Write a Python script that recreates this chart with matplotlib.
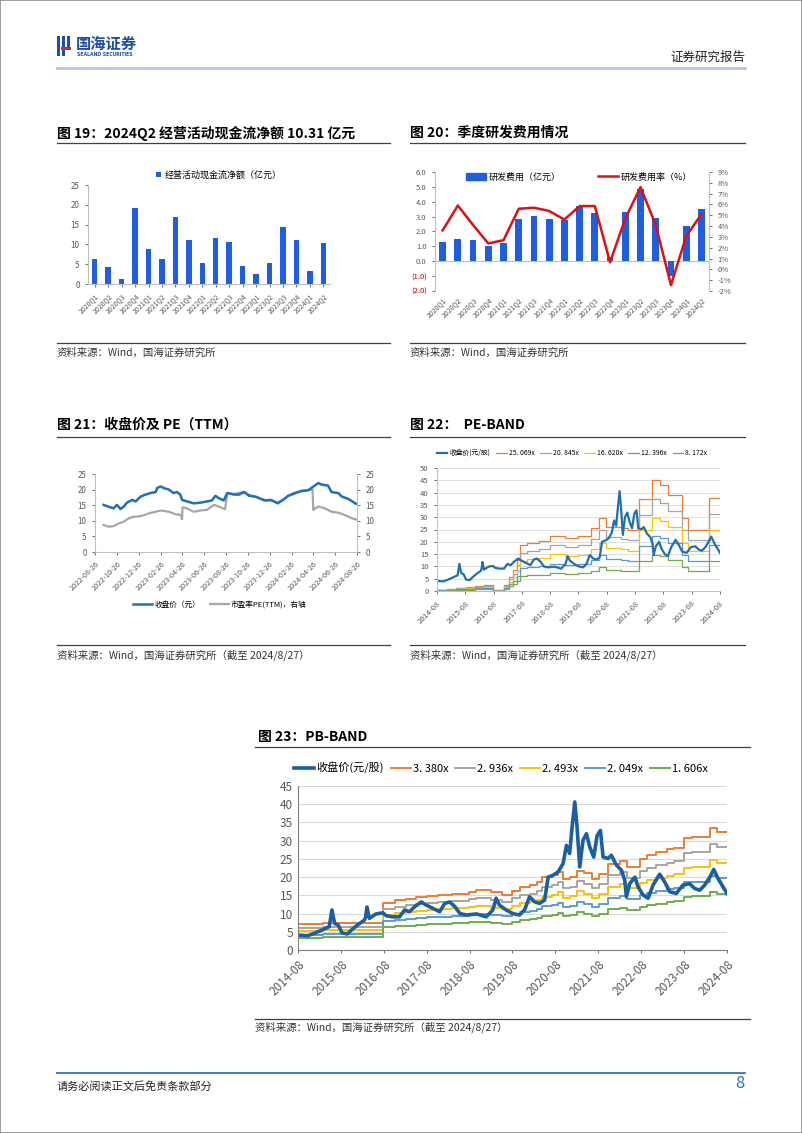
import numpy as np
import pandas as pd
import matplotlib
matplotlib.use("Agg")
import matplotlib.pyplot as plt
from matplotlib.lines import Line2D
from matplotlib.patches import Rectangle, Patch

plt.rcParams['font.family'] = ['Noto Sans CJK SC', 'DejaVu Sans']
plt.rcParams['axes.unicode_minus'] = False

W, H = 802, 1133

# ====== 数据 ======
quarters = ['2020Q1', '2020Q2', '2020Q3', '2020Q4', '2021Q1', '2021Q2', '2021Q3', '2021Q4',
            '2022Q1', '2022Q2', '2022Q3', '2022Q4', '2023Q1', '2023Q2', '2023Q3', '2023Q4',
            '2024Q1', '2024Q2']
cfo_net = [6.4, 4.3, 1.2, 19.1, 8.8, 6.3, 16.8, 11.2, 5.4, 11.5, 10.6, 4.6,
           2.6, 5.4, 14.5, 11.2, 3.4, 10.31]
rd_cost = [1.30, 1.52, 1.43, 1.00, 1.20, 2.87, 3.07, 2.85, 2.80, 3.70, 3.25, 0.30,
           3.30, 4.87, 2.94, -0.96, 2.35, 3.50]
rd_ratio = [3.6, 5.9, 4.1, 2.4, 2.7, 5.6, 5.7, 5.4, 4.6, 5.85, 5.85, 0.65,
            4.7, 7.6, 4.1, -1.45, 3.05, 5.1]

# 图21 收盘价 / PE(TTM)
c21_dates = ['2022-09-19', '2022-10-03', '2022-10-17', '2022-10-26', '2022-11-05', '2022-11-14',
             '2022-11-23', '2022-12-08', '2022-12-17', '2023-01-01', '2023-01-14', '2023-01-28',
             '2023-02-11', '2023-02-16', '2023-02-26', '2023-03-06', '2023-03-20', '2023-04-02',
             '2023-04-12', '2023-04-21', '2023-04-26', '2023-05-10', '2023-05-28', '2023-06-16',
             '2023-07-04', '2023-07-18', '2023-07-28', '2023-08-06', '2023-08-20', '2023-08-30',
             '2023-09-18', '2023-10-02', '2023-10-16', '2023-10-30', '2023-11-18', '2023-12-12',
             '2023-12-30', '2024-01-18', '2024-02-02', '2024-02-16', '2024-03-05', '2024-03-24',
             '2024-04-12', '2024-05-10', '2024-05-19', '2024-06-06', '2024-06-16', '2024-07-05',
             '2024-07-14', '2024-08-02', '2024-08-21', '2024-08-27']
c21_close = [15.1, 14.5, 14.0, 15.1, 13.8, 14.5, 15.8, 16.7, 16.2, 17.8, 18.4, 18.9,
             19.2, 20.6, 21.0, 20.5, 20.0, 18.9, 19.2, 18.4, 16.7, 16.2, 15.6, 15.8,
             16.2, 16.5, 18.0, 17.3, 16.5, 18.9, 18.4, 18.4, 19.2, 18.0, 17.7, 16.5,
             16.7, 15.6, 16.7, 18.0, 18.9, 19.5, 19.8, 22.1, 21.6, 21.3, 19.2, 18.9,
             17.8, 17.0, 15.6, 15.4]
p21_dates = ['2022-09-19', '2022-10-03', '2022-10-17', '2022-11-01', '2022-11-14', '2022-11-28',
             '2022-12-12', '2023-01-01', '2023-01-24', '2023-02-11', '2023-02-26', '2023-03-20',
             '2023-04-08', '2023-04-22', '2023-04-26', '2023-04-27', '2023-05-10', '2023-05-28',
             '2023-06-16', '2023-07-04', '2023-07-24', '2023-08-06', '2023-08-24', '2023-08-30',
             '2023-09-18', '2023-10-16', '2023-10-30', '2023-11-18', '2023-12-12', '2023-12-30',
             '2024-01-18', '2024-02-02', '2024-02-16', '2024-03-05', '2024-03-24', '2024-04-17',
             '2024-04-24', '2024-04-26', '2024-05-10', '2024-05-28', '2024-06-16', '2024-07-05',
             '2024-07-24', '2024-08-12', '2024-08-27']
p21_pe = [8.65, 8.1, 8.3, 9.2, 9.7, 10.8, 11.3, 11.5, 12.4, 12.9, 13.3, 12.9,
          12.1, 11.9, 10.5, 14.3, 14.0, 12.9, 13.3, 13.5, 15.1, 14.6, 13.7, 18.9,
          18.6, 19.3, 18.3, 17.7, 16.7, 16.5, 15.8, 16.9, 18.0, 18.6, 19.7, 19.9,
          20.1, 13.5, 14.6, 14.0, 12.9, 12.6, 11.8, 10.8, 10.3]
x21_ticks = ['2022-08-26', '2022-10-26', '2022-12-26', '2023-02-26', '2023-04-26', '2023-06-26',
             '2023-08-26', '2023-10-26', '2023-12-26', '2024-02-26', '2024-04-26', '2024-06-26',
             '2024-08-26']

# 图22/23 收盘价(元/股)
px_dates = ['2014-08-27', '2014-11-15', '2015-01-15', '2015-03-20', '2015-05-20', '2015-06-12',
            '2015-07-05', '2015-08-05', '2015-09-05', '2015-10-20', '2015-12-10', '2016-01-25',
            '2016-03-15', '2016-03-25', '2016-04-05', '2016-04-25', '2016-06-22', '2016-08-19',
            '2016-09-17', '2016-11-10', '2017-01-08', '2017-02-20', '2017-04-03', '2017-05-17',
            '2017-07-12', '2017-08-24', '2017-10-20', '2017-12-15', '2018-01-28', '2018-03-11',
            '2018-04-24', '2018-06-06', '2018-08-01', '2018-10-24', '2019-01-16', '2019-03-13',
            '2019-04-10', '2019-05-09', '2019-07-04', '2019-08-30', '2019-10-26', '2019-12-08',
            '2020-01-20', '2020-03-04', '2020-04-15', '2020-05-27', '2020-06-26', '2020-08-06',
            '2020-09-18', '2020-10-31', '2020-11-29', '2020-12-26', '2021-01-19', '2021-02-08',
            '2021-02-27', '2021-03-22', '2021-04-19', '2021-05-18', '2021-06-15', '2021-07-19',
            '2021-08-17', '2021-09-14', '2021-10-07', '2021-11-18', '2021-12-16', '2022-01-28',
            '2022-03-12', '2022-04-09', '2022-04-23', '2022-05-22', '2022-07-04', '2022-08-01',
            '2022-09-12', '2022-10-25', '2022-12-06', '2023-02-01', '2023-03-15', '2023-04-27',
            '2023-06-22', '2023-08-17', '2023-10-13', '2023-11-25', '2024-01-07', '2024-02-19',
            '2024-04-03', '2024-05-06', '2024-06-12', '2024-07-25', '2024-08-27']
px_close = [4.1, 3.9, 4.6, 5.5, 6.4, 11.0, 7.3, 6.8, 4.7, 4.4, 5.9, 7.1,
            8.2, 9.1, 11.8, 8.7, 9.9, 10.2, 9.4, 9.1, 9.1, 11.0, 10.5, 11.9,
            13.2, 12.3, 11.4, 10.5, 12.8, 13.2, 11.9, 10.0, 9.6, 9.9, 9.1, 11.0,
            14.2, 12.3, 11.0, 10.0, 9.6, 11.0, 14.6, 13.2, 12.8, 13.7, 20.0, 20.5,
            21.4, 23.7, 28.7, 26.5, 34.7, 40.6, 33.8, 22.8, 30.1, 31.9, 28.3, 25.5,
            31.4, 32.8, 25.5, 25.1, 26.0, 23.3, 21.9, 19.2, 14.6, 18.2, 20.0, 17.3,
            15.1, 14.2, 17.8, 20.8, 18.7, 16.0, 15.5, 17.8, 18.2, 16.9, 16.4, 17.8,
            20.0, 22.1, 19.6, 17.3, 15.5]

# PE-BAND 顶部(25.069x)阶梯
pe_band_dates = ['2014-08-27', '2015-01-01', '2015-05-01', '2015-09-01', '2016-01-01', '2016-05-01',
                 '2016-08-25', '2017-01-10', '2017-03-10', '2017-05-01', '2017-06-25', '2017-08-05',
                 '2017-11-01', '2018-04-01', '2018-08-20', '2019-03-01', '2019-08-20', '2020-02-01',
                 '2020-05-20', '2020-08-20', '2021-03-01', '2021-06-01', '2021-10-20', '2022-03-30',
                 '2022-07-15', '2022-11-01', '2023-04-20', '2023-07-15', '2024-04-01', '2024-08-27']
pe_band_top = [0.5, 0.9, 1.3, 1.7, 2.1, 2.6, 0.3, 2.5, 5.7, 8.4, 12.5, 18.7,
               19.6, 20.4, 22.5, 21.4, 22.3, 25.5, 29.6, 26.2, 25.5, 24.8, 37.3, 45.0,
               43.2, 39.1, 29.6, 24.8, 37.7, 37.7]
pe_multiples = [25.069, 20.845, 16.620, 12.396, 8.172]
pe_names = ['25. 069x', '20. 845x', '16. 620x', '12. 396x', '8. 172x']

# PB-BAND 顶部(3.380x)阶梯
pb_band_dates = ['2014-08-27', '2015-04-01', '2016-08-22', '2016-12-01', '2017-03-01', '2017-06-01',
                 '2017-09-01', '2017-12-01', '2018-04-01', '2018-08-20', '2018-10-20', '2019-03-01',
                 '2019-06-01', '2019-08-20', '2019-11-01', '2020-01-20', '2020-03-20', '2020-05-01',
                 '2020-08-01', '2020-09-20', '2020-11-01', '2021-01-01', '2021-03-01', '2021-05-01',
                 '2021-07-01', '2021-09-01', '2021-11-20', '2022-03-01', '2022-05-01', '2022-08-20',
                 '2022-10-20', '2023-01-01', '2023-04-01', '2023-06-01', '2023-08-25', '2023-11-01',
                 '2024-04-01', '2024-06-01', '2024-08-27']
pb_band_top = [7.0, 7.3, 13.0, 13.7, 14.1, 14.6, 14.9, 15.1, 15.5, 16.0, 16.4, 15.8,
               15.2, 16.3, 17.3, 17.8, 18.7, 19.9, 20.5, 21.4, 19.5, 20.0, 21.8, 21.0,
               19.5, 20.9, 23.6, 24.5, 22.9, 25.0, 26.0, 26.8, 27.6, 28.1, 30.6, 31.0,
               33.5, 32.4, 32.4]
pb_multiples = [3.380, 2.936, 2.493, 2.049, 1.606]
pb_names = ['3. 380x', '2. 936x', '2. 493x', '2. 049x', '1. 606x']

band_colors = ['#ED7D31', '#A5A5A5', '#FFC000', '#5B9BD5', '#70AD47']
year_ticks = ['2014-08-27', '2015-08-27', '2016-08-27', '2017-08-27', '2018-08-27', '2019-08-27',
              '2020-08-27', '2021-08-27', '2022-08-27', '2023-08-27', '2024-08-27']

BAR_BLUE = '#1F5FDF'
TICK_C = '#595959'
SPINE_C = '#BFBFBF'

fig = plt.figure(figsize=(W / 100, H / 100), dpi=100)


def add_ax(x0, y0, x1, y1):
    return fig.add_axes([x0 / W, 1 - y1 / H, (x1 - x0) / W, (y1 - y0) / H])


def txt(x, y, s, **kw):
    kw.setdefault('va', 'center')
    return fig.text(x / W, 1 - y / H, s, **kw)


def hline(x0, x1, y, color, lw):
    fig.add_artist(Line2D([x0 / W, x1 / W], [1 - y / H] * 2, color=color, lw=lw))


def style(ax, size, xsize=None):
    for s in ['top', 'right']:
        ax.spines[s].set_visible(False)
    for s in ['left', 'bottom']:
        ax.spines[s].set_color(SPINE_C)
        ax.spines[s].set_linewidth(0.8)
    ax.tick_params(labelsize=size, colors=TICK_C, length=2.5, width=0.6)
    if xsize:
        ax.tick_params(axis='x', labelsize=xsize)


# 边框
fig.add_artist(Rectangle((0, 0), 1, 1, transform=fig.transFigure, fill=False, ec='#8c8c8c', lw=1.2))

# ====== 页眉 ======
for (x0, y0, w, h, c) in [(57, 36, 3, 20, '#1F4EA8'), (62, 36, 3, 20, '#1F4EA8'),
                          (67, 36, 3, 14, '#1F4EA8'), (61, 47, 10, 3, '#D9262C')]:
    fig.add_artist(Rectangle((x0 / W, 1 - (y0 + h) / H), w / W, h / H,
                             transform=fig.transFigure, color=c, lw=0))
txt(76, 44, '国海证券', fontsize=11, color='#1F4EA8', fontweight='bold')
txt(77, 54, 'SEALAND SECURITIES', fontsize=3.3, color='#1F4EA8', fontweight='bold', family='DejaVu Sans')
txt(745, 57, '证券研究报告', fontsize=9, color='#222222', ha='right')
hline(57, 745, 68, '#B4C7E7', 2)

# ====== 图19 ======
txt(57, 133, '图 19：2024Q2 经营活动现金流净额 10.31 亿元', fontsize=10, fontweight='bold')
hline(57, 390, 143, '#404040', 0.9)
ax = add_ax(88, 185, 330, 284)
xq = np.arange(len(quarters))
ax.bar(xq, cfo_net, width=0.4, color=BAR_BLUE, label='经营活动现金流净额（亿元）')
ax.set_xlim(-0.5, len(quarters) - 0.5)
ax.set_ylim(0, 25)
ax.set_yticks(range(0, 26, 5))
ax.set_xticks(xq)
ax.set_xticklabels(quarters, rotation=45, ha='right', rotation_mode='anchor')
style(ax, 5.8, 5.0)
ax.legend(loc='center', bbox_to_anchor=(219 / W, 1 - 175 / H), bbox_transform=fig.transFigure,
          fontsize=6.5, frameon=False, handlelength=0.6, handleheight=0.6, handletextpad=0.4)
hline(57, 390, 343, '#404040', 0.9)
txt(57, 353, '资料来源：Wind，国海证券研究所', fontsize=7.5, color='#333333')

# ====== 图20 ======
txt(410, 133, '图 20：季度研发费用情况', fontsize=10, fontweight='bold')
hline(410, 745, 143, '#404040', 0.9)
ax = add_ax(435, 172, 709, 291)
ax.bar(xq, rd_cost, width=0.44, color=BAR_BLUE, label='研发费用（亿元）', zorder=2)
ax.axhline(0, color=SPINE_C, lw=0.8, zorder=1)
ax.set_xlim(-0.5, len(quarters) - 0.5)
ax.set_ylim(-2, 6)
ax.set_yticks(range(-2, 7))
ax.set_yticklabels([('(%.1f)' % -v) if v < 0 else '%.1f' % v for v in range(-2, 7)])
ax.set_xticks(xq)
ax.set_xticklabels(quarters, rotation=45, ha='right', rotation_mode='anchor')
style(ax, 5.5, 5.0)
ax.spines['bottom'].set_visible(False)
ax.tick_params(axis='x', length=0)
for lab in ax.get_yticklabels():
    if '(' in lab.get_text():
        lab.set_color('#C00000')
ax2 = ax.twinx()
ax2.plot(xq, rd_ratio, color='#E01010', lw=1.8, label='研发费用率（%）')
ax2.set_ylim(-2, 9)
ax2.set_yticks(range(-2, 10))
ax2.set_yticklabels(['%d%%' % v for v in range(-2, 10)])
for s in ['top', 'left', 'bottom']:
    ax2.spines[s].set_visible(False)
ax2.spines['right'].set_color(SPINE_C)
ax2.spines['right'].set_linewidth(0.8)
ax2.tick_params(labelsize=5.5, colors=TICK_C, length=2.5, width=0.6)
fig.legend(handles=[Patch(color=BAR_BLUE, label='研发费用（亿元）')], loc='center left',
           bbox_to_anchor=(458 / W, 1 - 177 / H), fontsize=6.5, frameon=False,
           handlelength=2.2, handleheight=0.8, handletextpad=0.3)
fig.legend(handles=[Line2D([], [], color='#E01010', lw=1.8, label='研发费用率（%）')], loc='center left',
           bbox_to_anchor=(590 / W, 1 - 177 / H), fontsize=6.5, frameon=False,
           handlelength=2.2, handletextpad=0.3)
hline(410, 745, 343, '#404040', 0.9)
txt(410, 353, '资料来源：Wind，国海证券研究所', fontsize=7.5, color='#333333')

# ====== 图21 ======
txt(57, 425, '图 21：收盘价及 PE（TTM）', fontsize=10, fontweight='bold')
hline(57, 390, 437, '#404040', 0.9)
ax = add_ax(95, 474, 357, 552)
d_close = pd.to_datetime(c21_dates)
d_pe = pd.to_datetime(p21_dates)
ax.plot(d_close, c21_close, color='#1F6FBF', lw=1.8)
ax.set_ylim(0, 25)
ax.set_yticks(range(0, 26, 5))
t21 = pd.to_datetime(x21_ticks)
ax.set_xlim(t21[0], t21[-1])
ax.set_xticks(t21)
ax.set_xticklabels(x21_ticks, rotation=45, ha='right', rotation_mode='anchor')
style(ax, 5.8, 5.3)
ax2 = ax.twinx()
ax2.plot(d_pe, p21_pe, color='#A6A6A6', lw=1.6)
ax2.set_ylim(0, 25)
ax2.set_yticks(range(0, 26, 5))
for s in ['top', 'left', 'bottom']:
    ax2.spines[s].set_visible(False)
ax2.spines['right'].set_color(SPINE_C)
ax2.tick_params(labelsize=5.8, colors=TICK_C, length=2.5, width=0.6)
ax.set_zorder(ax2.get_zorder() + 1)
ax.patch.set_visible(False)
fig.legend(handles=[Line2D([], [], color='#1F6FBF', lw=1.8, label='收盘价（元）'),
                    Line2D([], [], color='#A6A6A6', lw=1.6, label='市盈率PE(TTM)，右轴')],
           loc='center', bbox_to_anchor=(220 / W, 1 - 605 / H), ncol=2, fontsize=5.5,
           frameon=False, handlelength=2.5, handletextpad=0.3, columnspacing=1.2)
hline(57, 390, 645, '#404040', 0.9)
txt(57, 655, '资料来源：Wind，国海证券研究所（截至 2024/8/27）', fontsize=7.5, color='#333333')

# ====== 图22 ======
txt(410, 425, '图 22：  PE-BAND', fontsize=10, fontweight='bold')
hline(410, 745, 437, '#404040', 0.9)
ax = add_ax(437, 468, 720, 591)
d_px = pd.to_datetime(px_dates)
d_pe_band = pd.to_datetime(pe_band_dates)
handles = []
for m, name, c in zip(pe_multiples, pe_names, band_colors):
    vals = [v * m / pe_multiples[0] for v in pe_band_top]
    handles.append(ax.step(d_pe_band, vals, where='post', color=c, lw=0.9, label=name)[0])
hp = ax.plot(d_px, px_close, color='#1F6FB4', lw=1.6, label='收盘价(元/股)')[0]
ax.set_ylim(0, 50)
ax.set_yticks(range(0, 51, 5))
yt = pd.to_datetime(year_ticks)
ax.set_xlim(yt[0], yt[-1])
ax.set_xticks(yt)
ax.set_xticklabels([d.strftime('%Y-%m') for d in yt], rotation=45, ha='right', rotation_mode='anchor')
ax.grid(axis='y', color='#D9D9D9', lw=0.6)
ax.set_axisbelow(True)
style(ax, 5.5)
fig.legend(handles=[hp] + handles, loc='center', bbox_to_anchor=(572 / W, 1 - 453 / H), ncol=6,
           fontsize=4.9, frameon=False, handlelength=1.6, handletextpad=0.3, columnspacing=0.8)
hline(410, 745, 645, '#404040', 0.9)
txt(410, 655, '资料来源：Wind，国海证券研究所（截至 2024/8/27）', fontsize=7.5, color='#333333')

# ====== 图23 ======
txt(258, 737, '图 23：PB-BAND', fontsize=10, fontweight='bold')
hline(255, 750, 747, '#404040', 0.9)
ax = add_ax(298, 786, 727, 950)
d_pb_band = pd.to_datetime(pb_band_dates)
handles = []
for m, name, c in zip(pb_multiples, pb_names, band_colors):
    vals = [v * m / pb_multiples[0] for v in pb_band_top]
    handles.append(ax.step(d_pb_band, vals, where='post', color=c, lw=1.4, label=name)[0])
hp = ax.plot(d_px, px_close, color='#1A5FA3', lw=2.6, label='收盘价(元/股)')[0]
ax.set_ylim(0, 45)
ax.set_yticks(range(0, 46, 5))
ax.set_xlim(yt[0], yt[-1])
ax.set_xticks(yt)
ax.set_xticklabels([d.strftime('%Y-%m') for d in yt], rotation=45, ha='right', rotation_mode='anchor')
ax.grid(axis='y', color='#D9D9D9', lw=0.8)
ax.set_axisbelow(True)
style(ax, 8.5)
ax.spines['left'].set_color('#808080')
ax.spines['bottom'].set_color('#808080')
ax.tick_params(axis='y', length=0)
fig.legend(handles=[hp] + handles, loc='center', bbox_to_anchor=(501 / W, 1 - 768 / H), ncol=6,
           fontsize=8, frameon=False, handlelength=1.8, handletextpad=0.2, columnspacing=0.6)
hline(255, 750, 1019, '#404040', 0.9)
txt(255, 1027, '资料来源：Wind，国海证券研究所（截至 2024/8/27）', fontsize=7.5, color='#333333')

# ====== 页脚 ======
hline(57, 745, 1073, '#2F6FCE', 1.3)
txt(57, 1086, '请务必阅读正文后免责条款部分', fontsize=8, color='#222222')
txt(745, 1084, '8', fontsize=12, color='#2F6FCE', ha='right')

fig.savefig('out.png', dpi=100)
